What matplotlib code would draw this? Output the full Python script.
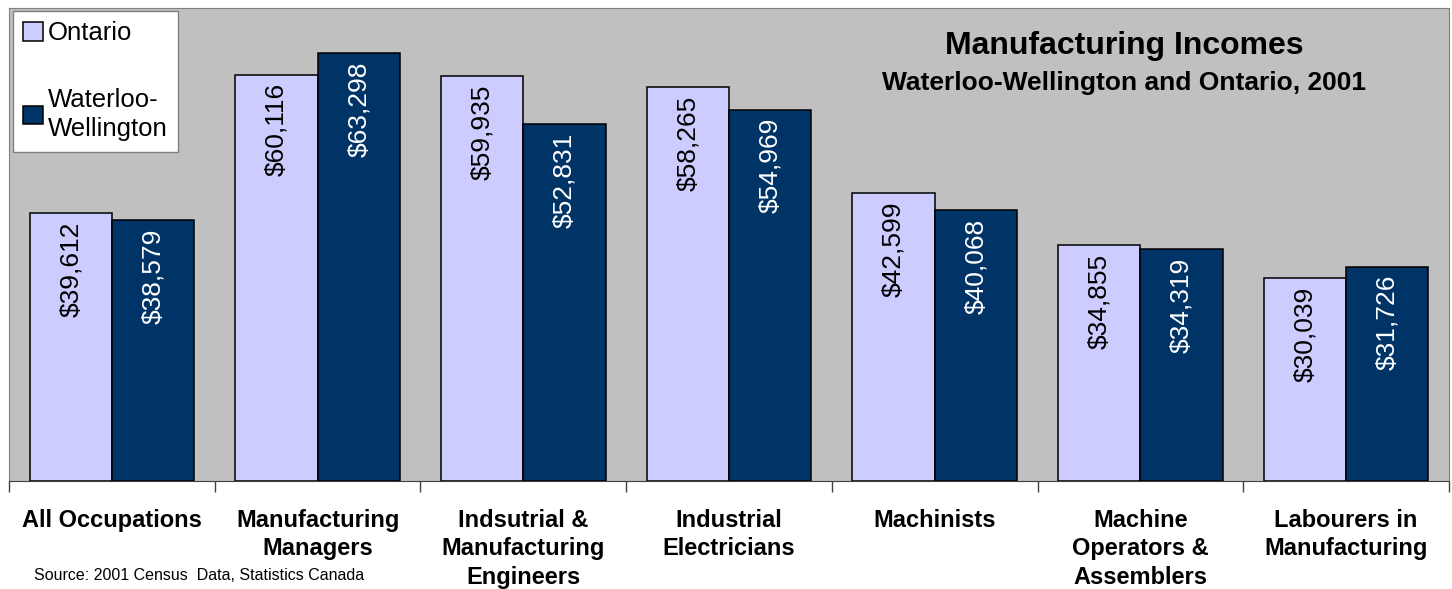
import matplotlib.pyplot as plt
import numpy as np

plt.rcParams['font.family'] = ['Liberation Sans', 'DejaVu Sans']

# data
categories = ["All Occupations", "Manufacturing\nManagers", "Indsutrial &\nManufacturing\nEngineers",
              "Industrial\nElectricians", "Machinists", "Machine\nOperators &\nAssemblers",
              "Labourers in\nManufacturing"]
ontario = [39612, 60116, 59935, 58265, 42599, 34855, 30039]
waterloo = [38579, 63298, 52831, 54969, 40068, 34319, 31726]

light = '#CCCCFF'
dark = '#003366'

fig = plt.figure(figsize=(14.52, 5.89), dpi=100)
ax = fig.add_axes([9/1452, (589-481)/589, 1440/1452, 473/589])
ax.set_facecolor('#C0C0C0')

x = np.arange(len(categories))
w = 0.4
b1 = ax.bar(x - w/2, ontario, w, color=light, edgecolor='black', linewidth=1.1, label='Ontario')
b2 = ax.bar(x + w/2, waterloo, w, color=dark, edgecolor='black', linewidth=1.1, label='Waterloo-\nWellington')

# labels inside bars
for xi, v in zip(x - w/2, ontario):
    ax.annotate('${:,}'.format(v), (xi, v), xytext=(0, -6), textcoords='offset points',
                rotation=90, ha='center', va='top', fontsize=19, color='black')
for xi, v in zip(x + w/2, waterloo):
    ax.annotate('${:,}'.format(v), (xi, v), xytext=(0, -6), textcoords='offset points',
                rotation=90, ha='center', va='top', fontsize=19, color='white')

ax.set_xlim(-0.5, len(categories) - 0.5)
ax.set_ylim(0, 70000)
ax.set_yticks([])

# ticks at the category boundaries, labels at centers
ax.set_xticks(np.arange(len(categories) + 1) - 0.5)
ax.set_xticklabels([])
ax.tick_params(axis='x', which='major', length=8, width=1, color='#404040', direction='out')
ax.set_xticks(x, minor=True)
ax.set_xticklabels(categories, minor=True, fontsize=17, fontweight='bold', linespacing=1.3)
ax.tick_params(axis='x', which='minor', length=0, pad=20)

for s in ['top', 'left', 'right']:
    ax.spines[s].set_color('#808080')
ax.spines['bottom'].set_color('#404040')

leg = ax.legend(loc='upper left', bbox_to_anchor=(4/1440, 1 - 3/473), borderaxespad=0,
                fontsize=18.5, frameon=True, fancybox=False, framealpha=1,
                edgecolor='#808080', handlelength=0.75, handleheight=0.75,
                handletextpad=0.2, labelspacing=1.65, borderpad=0.4)
leg.get_frame().set_linewidth(1)
for t in leg.get_texts():
    t.set_linespacing(1.3)

fig.text(1124/1452, 1 - 46/589, 'Manufacturing Incomes', ha='center', va='center',
         fontsize=23, fontweight='bold')
fig.text(1124/1452, 1 - 83/589, 'Waterloo-Wellington and Ontario, 2001', ha='center', va='center',
         fontsize=19, fontweight='bold')
fig.text(34/1452, 1 - 575/589, 'Source: 2001 Census  Data, Statistics Canada', ha='left', va='center',
         fontsize=11.5)

fig.savefig('out.png', dpi=100)
